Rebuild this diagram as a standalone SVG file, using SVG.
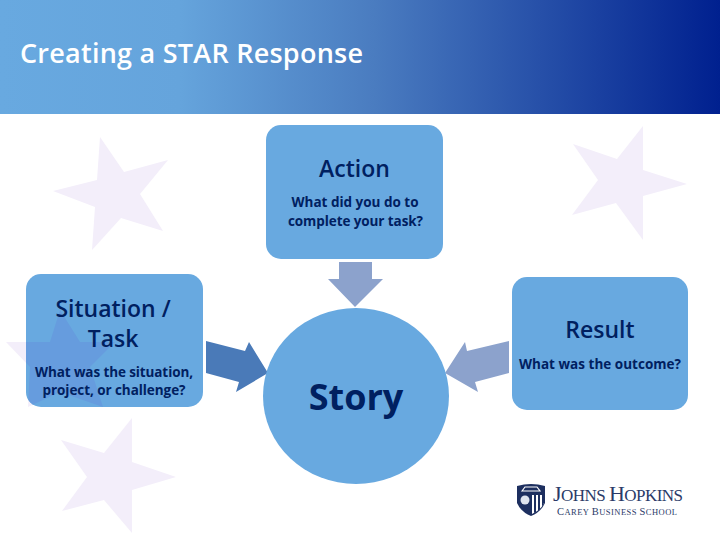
<svg xmlns="http://www.w3.org/2000/svg" width="720" height="540" viewBox="0 0 720 540">
<style>
text{font-family:"Open Sans","Noto Sans","Liberation Sans",sans-serif;fill:#002060;text-anchor:middle}
.h{font-size:23px;font-weight:600}
.s{font-size:13.5px;font-weight:700}
.star{fill:#f3eefa}
.box{fill:#68a9e0}
.logo{font-family:"Liberation Serif",serif;fill:#2a3a68;text-anchor:start}
</style>
<defs>
<linearGradient id="hdr" x1="0" y1="0" x2="1" y2="0">
<stop offset="0" stop-color="#68a9e0"/>
<stop offset="0.25" stop-color="#65a4dc"/>
<stop offset="0.52" stop-color="#4a7cc0"/>
<stop offset="1" stop-color="#00208f"/>
</linearGradient>
<clipPath id="boxclip"><rect x="26" y="274" width="177" height="133" rx="15"/></clipPath>
</defs>
<rect id="header" width="720" height="114" fill="url(#hdr)"/>
<text x="20" y="63" style="text-anchor:start;fill:#fff;font-size:27px;font-weight:600" textLength="343">Creating a STAR Response</text>
<g id="stars">
<polygon class="star" points="100,137 124,172 168,160 140,194 163,231 121,218 92,250 95,207 53,191 97,180"/>
<polygon class="star" points="643,126 643,170 687,184 643,196 643,240 616,203 572,215 598,180 573,144 617,159"/>
<polygon class="star" points="132,418 132,462 176,477 132,490 132,533 104,500 62,511 87,477 61,440 104,453"/>
<polygon class="star" points="60,310 80,342 115,342 90,367 103,407 60,392 28,407 30,367 6,342 50,342"/>
</g>
<g id="connectors">
<polygon fill="#8ca2cc" points="339,262 372,262 372,279 383,279 355,307 328,279 339,279"/>
<polygon fill="#4a7ab8" points="206,341 245,351 249,342 268,373 236,392 239,382 206,373"/>
<polygon fill="#8ca2cc" points="509,341 467,351 465,342 445,373 478,392 475,382 509,373"/>
</g>
<g id="action">
<rect class="box" x="266" y="125" width="177" height="134" rx="15"/>
<text class="h" x="354.500" y="177">Action</text>
<text class="s" x="355" y="207" textLength="127">What did you do to</text>
<text class="s" x="355.500" y="226" textLength="135">complete your task?</text>
</g>
<g id="situation">
<rect class="box" x="26" y="274" width="177" height="133" rx="15"/>
<polygon clip-path="url(#boxclip)" fill="#669cde" points="60,310 80,342 115,342 90,367 103,407 60,392 28,407 30,367 6,342 50,342"/>
<text class="h" x="113" y="317">Situation /</text>
<text class="h" x="113" y="347">Task</text>
<text class="s" x="114" y="377" textLength="158">What was the situation,</text>
<text class="s" x="114" y="395" textLength="143">project, or challenge?</text>
</g>
<g id="result">
<rect class="box" x="512" y="277" width="176" height="133" rx="15"/>
<text class="h" x="600" y="338">Result</text>
<text class="s" x="600" y="369" textLength="162">What was the outcome?</text>
</g>
<g id="story">
<ellipse class="box" cx="356" cy="396" rx="93" ry="88"/>
<text x="356" y="410" style="font-size:36px;font-weight:700">Story</text>
</g>
<g id="logo">
<path fill="#1d2f5f" d="M517,486 Q531,482 545,486 L545,503 Q541,512 531,516 Q521,512 517,503 Z"/>
<path fill="none" stroke="#fff" stroke-width="1.200" d="M522,491 L525,487 H537 L540,491 Z"/>
<circle cx="525" cy="500" r="4.500" fill="#dfe4ee"/>
<path fill="#fff" d="M532,495 L544,495 L544,503 Q541,510 532,514 Z"/>
<path fill="#1d2f5f" d="M534,495 h2 v17 l-2,1 Z M538,495 h2 v14 l-2,2 Z M542,495 h2 v8 l-2,4 Z"/>
<text class="logo" x="553" y="501" font-size="22" textLength="130">J<tspan font-size="17">OHNS </tspan>H<tspan font-size="17">OPKINS</tspan></text>
<text class="logo" x="557" y="515" font-size="10.500" textLength="120">C<tspan font-size="8.500">AREY </tspan>B<tspan font-size="8.500">USINESS </tspan>S<tspan font-size="8.500">CHOOL</tspan></text>
</g>
</svg>
